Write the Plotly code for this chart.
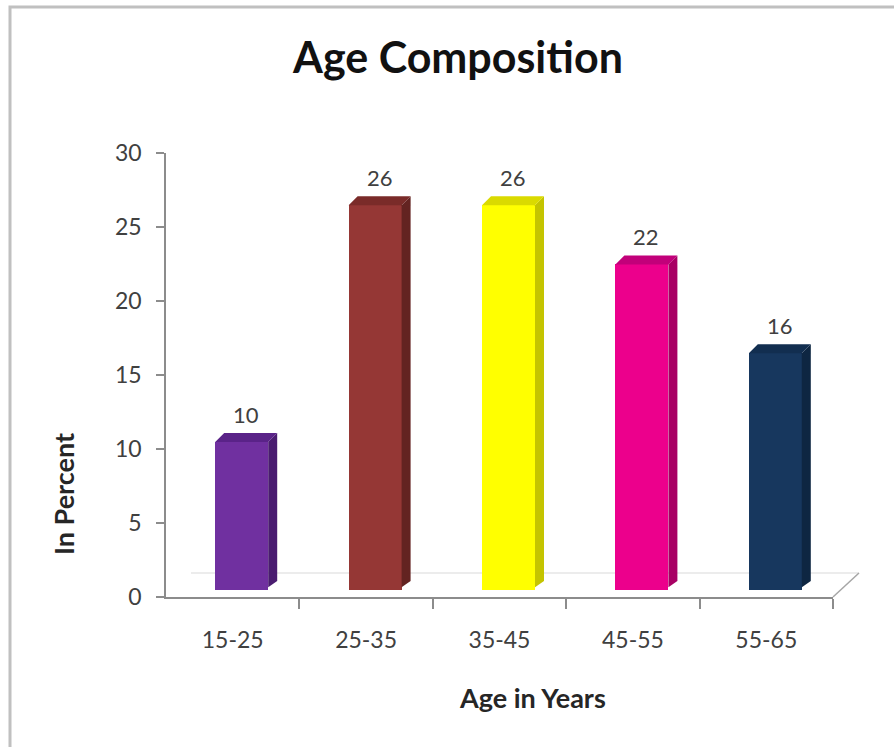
import plotly.graph_objects as go

# ---- data ----
categories = ["15-25", "25-35", "35-45", "45-55", "55-65"]
percent = [10, 26, 26, 22, 16]
y_ticks = [0, 5, 10, 15, 20, 25, 30]

# ---- colours for the three visible faces of each column ----
front_colors = ["#7030A0", "#953735", "#FFFF00", "#EC008C", "#17375E"]
side_colors = ["#4A1C70", "#632321", "#C4C400", "#A80064", "#0E2642"]
top_colors = ["#5A2388", "#7A2B29", "#DADA00", "#C2007A", "#122E50"]

# ---- page / plot geometry ----
W, H = 894, 747
M_L, M_R, M_T, M_B = 166, 61, 153, 150
plot_w = W - M_L - M_R
plot_h = H - M_T - M_B
x_max = len(categories)
y_max = 30
ux = x_max / plot_w   # x data units per pixel
uy = y_max / plot_h   # y data units per pixel

bar_w = 53 * ux
lift_x, lift_y = 9 * ux, 7 * uy      # front faces sit back on the floor
depth_x, depth_y = 9 * ux, 9 * uy    # column depth

centers = [i + 0.5 for i in range(x_max)]

fig = go.Figure()

# front faces
fig.add_trace(go.Bar(
    x=[c + lift_x for c in centers],
    y=percent,
    base=lift_y,
    width=bar_w,
    marker=dict(color=front_colors, line=dict(width=0)),
    hoverinfo="skip",
    showlegend=False,
))

# side and top faces
for c, v, sc, tc in zip(centers, percent, side_colors, top_colors):
    left = c + lift_x - bar_w / 2
    right = c + lift_x + bar_w / 2
    bottom = lift_y
    top = lift_y + v
    fig.add_trace(go.Scatter(
        x=[right, right + depth_x, right + depth_x, right, right],
        y=[bottom + depth_y * 0.3, bottom + depth_y, top + depth_y, top, bottom + depth_y * 0.3],
        mode="lines", fill="toself", fillcolor=sc,
        line=dict(width=0), hoverinfo="skip", showlegend=False,
    ))
    fig.add_trace(go.Scatter(
        x=[left, left + depth_x, right + depth_x, right, left],
        y=[top, top + depth_y, top + depth_y, top, top],
        mode="lines", fill="toself", fillcolor=tc,
        line=dict(width=0), hoverinfo="skip", showlegend=False,
    ))

# value labels above each column
for c, v in zip(centers, percent):
    fig.add_annotation(
        x=c + lift_x + depth_x / 2, y=v + lift_y + depth_y,
        text=str(v), showarrow=False, yanchor="middle", yshift=19,
        font=dict(family="Lato", size=22, color="#404040"),
    )

# floor: back edge and right edge (paper coordinates so it may leave the plot area)
floor_dx = 26 / plot_w
floor_dy = 24 / plot_h
fig.add_shape(type="line", xref="paper", yref="paper",
              x0=25 / plot_w, y0=floor_dy, x1=1 + floor_dx, y1=floor_dy,
              line=dict(color="#E6E6E6", width=1.5), layer="below")
fig.add_shape(type="line", xref="paper", yref="paper",
              x0=1, y0=0, x1=1 + floor_dx, y1=floor_dy,
              line=dict(color="#A6A6A6", width=1.5))

# outer chart border
fig.add_shape(type="rect", xref="paper", yref="paper",
              x0=(10 - M_L) / plot_w, x1=(W + 20 - M_L) / plot_w,
              y0=(M_B + plot_h - H - 20) / plot_h, y1=(M_T + plot_h - 7) / plot_h,
              line=dict(color="#C0C0C0", width=3), layer="below")

# axis titles
fig.add_annotation(
    xref="paper", yref="paper",
    x=(63 - M_L) / plot_w, y=(597 - 494) / plot_h,
    xanchor="center", yanchor="middle",
    text="<b>In Percent</b>", textangle=-90, showarrow=False,
    font=dict(family="Lato", size=27, color="#262626"),
)
fig.add_annotation(
    xref="paper", yref="paper",
    x=(532 - M_L) / plot_w, y=(597 - 697) / plot_h,
    xanchor="center", yanchor="middle",
    text="<b>Age in Years</b>", showarrow=False,
    font=dict(family="Lato", size=27, color="#262626"),
)

fig.update_layout(
    width=W, height=H,
    margin=dict(l=M_L, r=M_R, t=M_T, b=M_B, pad=0),
    paper_bgcolor="white", plot_bgcolor="white",
    title=dict(
        text="<b>Age Composition</b>",
        x=458 / W, xanchor="center",
        y=1 - 58 / H, yanchor="middle",
        font=dict(family="Lato", size=43, color="#111111"),
    ),
    bargap=0,
    xaxis=dict(
        range=[0, x_max], tickvals=centers, ticktext=categories,
        ticks="", showgrid=False, zeroline=False,
        showline=True, linecolor="#8C8C8C", linewidth=1.5,
        ticklabelstandoff=22,
        tickfont=dict(family="Lato", size=23, color="#404040"),
        minor=dict(tickvals=list(range(1, x_max + 1)), ticks="outside",
                   ticklen=10, tickcolor="#8C8C8C", tickwidth=1.5, showgrid=False),
        fixedrange=True,
    ),
    yaxis=dict(
        range=[0, y_max], tickvals=y_ticks,
        ticks="outside", ticklen=8, tickcolor="#8C8C8C", tickwidth=1.5,
        showgrid=False, zeroline=False,
        showline=True, linecolor="#8C8C8C", linewidth=1.5,
        ticklabelstandoff=10,
        tickfont=dict(family="Lato", size=23, color="#404040"),
        fixedrange=True,
    ),
)

fig.write_html("out.html")
